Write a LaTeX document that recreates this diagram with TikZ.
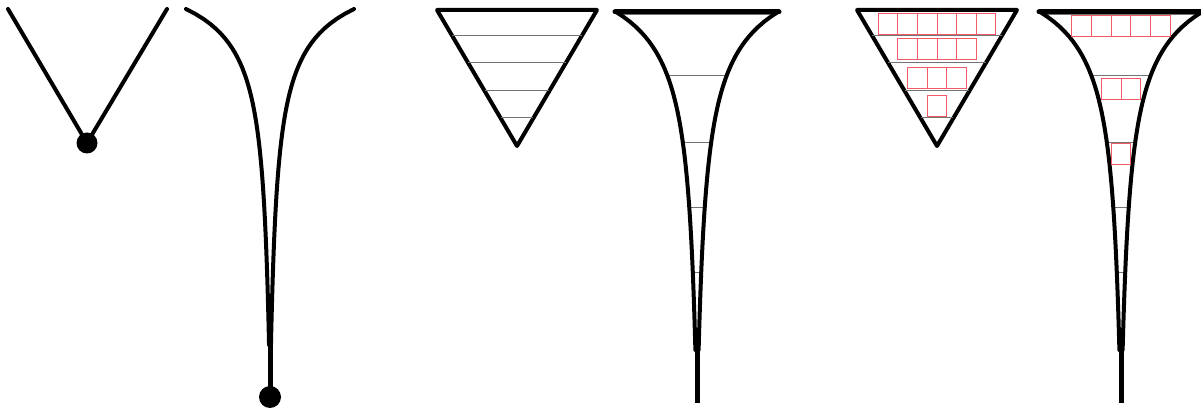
\documentclass[tikz,border=0pt]{standalone}
\definecolor{cellred}{RGB}{240,90,105}
\begin{document}
\begin{tikzpicture}[x=1pt,y=-1pt,
  outline/.style={line width=4pt,line join=round,line cap=round},
  topbar/.style={line width=5pt,line cap=round},
  rung/.style={line width=1pt,draw=black!55},
  cell/.style={draw=cellred,line width=1pt},
  stem/.style={line width=5pt},
  tri/.pic={
    \draw[outline] (-80,10) -- (80,10) -- (0,146) -- cycle;
    \foreach \yy in {36,63,91,118}{
      \pgfmathsetmacro{\hw}{80*(146-\yy)/136}
      \draw[rung] (-\hw,\yy) -- (\hw,\yy);
    }
  },
  funnel/.pic={
    \draw[rung] (-79,15) -- (79,15);
    \foreach \yy in {76,143,208,273,340}{
      \pgfmathsetmacro{\hw}{(896/(\yy+87.6))^2-2.5*(\yy-12)/328}
      \draw[rung] (-\hw,\yy) -- (\hw,\yy);
    }
    \draw[outline] plot[domain=12:350,samples=70,variable=\t] ({-((896/(\t+87.6))^2-2.5*(\t-12)/328)},\t);
    \draw[outline] plot[domain=12:350,samples=70,variable=\t] ({(896/(\t+87.6))^2-2.5*(\t-12)/328},\t);
    \draw[topbar] (-82,12) -- (82,12);
    \draw[stem] (0,345) -- (0,403);
  }]
\useasboundingbox (0,0) rectangle (1201,411);
% panel 1
\coordinate (v1) at (87,143);
\draw[outline] (8,9) -- (v1) -- (167,9);
\fill (v1) circle (10.5);
% panel 2
\begin{scope}[shift={(270,0)}]
  \draw[outline] plot[domain=9:345,samples=70,variable=\t] ({-((740.7/(\t+71.8))^2-2.2*(\t-9)/336)},\t);
  \draw[outline] plot[domain=9:345,samples=70,variable=\t] ({(740.7/(\t+71.8))^2-2.2*(\t-9)/336},\t);
  \coordinate (v2) at (0,397);
  \draw[stem] (0,338) -- (v2);
  \fill (v2) circle (11);
\end{scope}
% panel 3 and 4
\pic at (517,0) {tri};
\pic at (697,0) {funnel};
% panel 5
\pic at (937,0) {tri};
\foreach \n/\y in {6/14,4/39,3/68,1/96}{
  \pgfmathsetmacro{\xs}{937-\n*19.65/2}
  \foreach \i in {1,...,\n}{
    \draw[cell] ({\xs+(\i-1)*19.65},\y) rectangle ++(19.65,21);
  }
}
% panel 6
\pic at (1121,0) {funnel};
\foreach \n/\y in {5/16,2/79,1/144}{
  \pgfmathsetmacro{\xs}{1121-\n*19.65/2}
  \foreach \i in {1,...,\n}{
    \draw[cell] ({\xs+(\i-1)*19.65},\y) rectangle ++(19.65,21);
  }
}
\end{tikzpicture}
\end{document}
